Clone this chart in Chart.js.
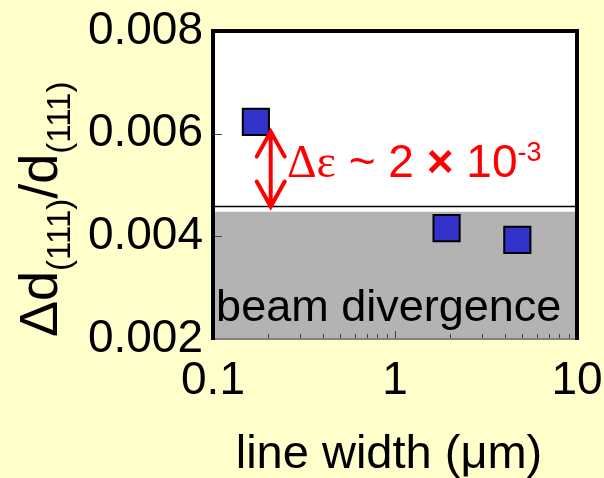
<!DOCTYPE html>
<html lang="en">
<head>
  <meta charset="UTF-8">
  <title>Δd(111)/d(111) vs. line width</title>
  <!-- Chart.js -->
  <script src="https://cdn.jsdelivr.net/npm/chart.js"></script>
  <style>
    body {
      margin: 0;
      padding: 0;
      background: #FFFFCC;
    }
    .chart-container {
      width: 604px;
      height: 478px;
    }
  </style>
</head>
<body>
  <div class="chart-container">
    <canvas id="strainChart" width="604" height="478"></canvas>
  </div>

  <script>
    // Measured points
    const lineWidths   = [0.172, 1.92, 4.70];       // µm
    const strainValues = [0.00623, 0.00416, 0.00393];

    // Axis ticks
    const xTicks      = [0.1, 1, 10];
    const xMinorTicks = [0.2, 0.3, 0.4, 0.5, 0.6, 0.7, 0.8, 0.9, 2, 3, 4, 5, 6, 7, 8, 9];
    const yTicks      = [0.002, 0.004, 0.006, 0.008];

    // Beam divergence level (grey band) and the line above it
    const bandTop   = 0.00448;
    const limitLine = 0.00458;

    // Arrow and its label
    const arrowX     = 0.2075;
    const arrowTop   = 0.00604;
    const labelX     = 0.255;
    const labelY     = 0.00516;
    const bandLabelX = 0.104;
    const bandLabelY = 0.00236;

    const sans  = '"Liberation Sans", Arial, sans-serif';
    const serif = '"Liberation Serif", "Times New Roman", serif';

    // no extra label overflow padding, the layout padding decides
    function noOverflow(s) {
      s.paddingLeft = 0; s.paddingRight = 0;
      s.paddingTop = 0;  s.paddingBottom = 0;
    }

    // Background, frame, ticks, arrow and texts
    const decorPlugin = {
      id: 'decor',
      beforeDraw(chart) {
        const c = chart.ctx, a = chart.chartArea;
        c.save();
        c.fillStyle = '#FFFFCC';
        c.fillRect(0, 0, chart.width, chart.height);
        c.fillStyle = '#FFFFFF';
        c.fillRect(a.left, a.top, a.right - a.left, a.bottom - a.top);
        c.restore();
      },
      afterDatasetsDraw(chart) {
        const c = chart.ctx, a = chart.chartArea;
        const xs = chart.scales.x, ys = chart.scales.y;
        c.save();

        // inward ticks
        c.strokeStyle = '#444';
        c.lineWidth = 1;
        c.beginPath();
        yTicks.forEach(v => {
          const y = Math.round(ys.getPixelForValue(v)) + 0.5;
          c.moveTo(a.left, y); c.lineTo(a.left + 9, y);
        });
        xTicks.forEach(v => {
          const x = Math.round(xs.getPixelForValue(v)) + 0.5;
          c.moveTo(x, a.bottom); c.lineTo(x, a.bottom - 8);
        });
        xMinorTicks.forEach(v => {
          const x = Math.round(xs.getPixelForValue(v)) + 0.5;
          c.moveTo(x, a.bottom); c.lineTo(x, a.bottom - 5);
        });
        c.stroke();

        // frame
        c.strokeStyle = '#808080';
        c.lineWidth = 2;
        c.beginPath();
        c.moveTo(a.left, a.bottom); c.lineTo(a.right, a.bottom);
        c.stroke();
        c.strokeStyle = '#000';
        c.lineWidth = 4;
        c.beginPath();
        c.moveTo(a.left, a.bottom + 1);
        c.lineTo(a.left, a.top);
        c.lineTo(a.right, a.top);
        c.lineTo(a.right, a.bottom + 1);
        c.stroke();

        // double arrow
        const ax = xs.getPixelForValue(arrowX);
        const at = ys.getPixelForValue(arrowTop);
        const ab = ys.getPixelForValue(limitLine);
        c.strokeStyle = '#FF0000';
        c.lineWidth = 4;
        c.lineCap = 'round';
        c.beginPath();
        c.moveTo(ax, at); c.lineTo(ax, ab);
        c.moveTo(ax - 14, at + 25); c.lineTo(ax, at); c.lineTo(ax + 14, at + 25);
        c.moveTo(ax - 14, ab - 25); c.lineTo(ax, ab); c.lineTo(ax + 14, ab - 25);
        c.stroke();

        // label Δε ~ 2 × 10^-3
        let tx = xs.getPixelForValue(labelX);
        const ty = ys.getPixelForValue(labelY);
        c.fillStyle = '#FF0000';
        c.textBaseline = 'alphabetic';
        c.textAlign = 'left';
        c.font = '46px ' + serif;
        c.fillText('Δε', tx, ty);
        tx += c.measureText('Δε').width;
        c.font = '46px ' + sans;
        c.fillText(' ~ 2 ', tx, ty);
        tx += c.measureText(' ~ 2 ').width;
        c.font = 'bold 46px ' + sans;
        c.fillText('×', tx, ty);
        tx += c.measureText('×').width;
        c.font = '46px ' + sans;
        c.fillText(' 10', tx, ty);
        tx += c.measureText(' 10').width;
        c.font = '27px ' + sans;
        c.fillText('-3', tx, ty - 16);

        // band label
        c.fillStyle = '#000';
        c.font = '45px ' + sans;
        c.fillText('beam divergence', xs.getPixelForValue(bandLabelX), ys.getPixelForValue(bandLabelY));

        // x axis title
        c.textAlign = 'center';
        c.font = '47px ' + sans;
        c.fillText('line width (μm)', 389, 468);

        // y axis title with subscripts
        c.translate(57, 337);
        c.rotate(-Math.PI / 2);
        c.textAlign = 'left';
        const parts = [['Δd', 0], ['(111)', 1], ['/d', 0], ['(111)', 1]];
        let px = 0;
        parts.forEach(([t, sub]) => {
          c.font = (sub ? '33px ' : '54px ') + sans;
          c.fillText(t, px, sub ? 13 : 0);
          px += c.measureText(t).width;
        });

        c.restore();
      }
    };

    const ctx = document.getElementById('strainChart').getContext('2d');
    const strainChart = new Chart(ctx, {
      type: 'scatter',
      data: {
        datasets: [
          {
            label: 'Δd/d',
            data: lineWidths.map((x, i) => ({ x: x, y: strainValues[i] })),
            pointStyle: 'rect',
            pointRadius: 18.5,
            pointHoverRadius: 18.5,
            backgroundColor: '#3333CC',
            borderColor: '#000',
            borderWidth: 2,
            order: 0
          },
          {
            type: 'line',
            label: 'limit',
            data: [{ x: 0.1, y: limitLine }, { x: 10, y: limitLine }],
            borderColor: '#000',
            borderWidth: 1.5,
            pointRadius: 0,
            fill: false,
            order: 1
          },
          {
            type: 'line',
            label: 'beam divergence',
            data: [{ x: 0.1, y: bandTop }, { x: 10, y: bandTop }],
            borderColor: 'rgba(0,0,0,0)',
            borderWidth: 0,
            backgroundColor: '#B3B3B3',
            pointRadius: 0,
            fill: 'start',
            order: 2
          }
        ]
      },
      options: {
        responsive: false,
        animation: false,
        layout: { padding: { top: 31, right: 27, left: 0, bottom: 0 } },
        scales: {
          x: {
            type: 'logarithmic',
            min: 0.1,
            max: 10,
            afterBuildTicks: s => { s.ticks = xTicks.map(v => ({ value: v })); },
            afterFit: s => { s.height = 139; noOverflow(s); },
            grid: { display: false, drawTicks: false },
            border: { display: false },
            ticks: {
              color: '#000',
              font: { family: sans, size: 46 },
              padding: 15,
              autoSkip: false,
              maxRotation: 0,
              callback: v => String(v)
            }
          },
          y: {
            min: 0.002,
            max: 0.008,
            afterBuildTicks: s => { s.ticks = yTicks.map(v => ({ value: v })); },
            afterFit: s => { s.width = 213; noOverflow(s); },
            grid: { display: false, drawTicks: false },
            border: { display: false },
            ticks: {
              color: '#000',
              font: { family: sans, size: 46 },
              padding: 10,
              callback: v => v.toFixed(3)
            }
          }
        },
        plugins: {
          legend: { display: false },
          tooltip: { enabled: false }
        }
      },
      plugins: [decorPlugin]
    });
  </script>
</body>
</html>
